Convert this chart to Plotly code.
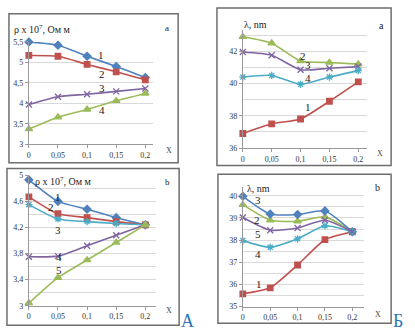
import plotly.graph_objects as go

W, H = 415, 336

x_vals = [0, 0.05, 0.1, 0.15, 0.2]
x_ticktext = ["0", "0,05", "0,1", "0,15", "0,2"]

# Panel A-a : resistivity
rho_a = {
    "1": [5.50, 5.42, 5.15, 4.90, 4.63],
    "2": [5.17, 5.15, 4.95, 4.77, 4.57],
    "3": [3.97, 4.16, 4.22, 4.29, 4.36],
    "4": [3.37, 3.66, 3.85, 4.06, 4.24],
}
# Panel A-b : resistivity
rho_b = {
    "1": [4.93, 4.60, 4.48, 4.35, 4.24],
    "2": [4.67, 4.41, 4.35, 4.29, 4.24],
    "3": [4.55, 4.33, 4.29, 4.26, 4.24],
    "4": [3.75, 3.76, 3.92, 4.08, 4.24],
    "5": [3.04, 3.43, 3.70, 3.97, 4.24],
}
# Panel Б-a : mean free path
lam_a = {
    "1": [36.9, 37.5, 37.8, 38.9, 40.1],
    "2": [42.9, 42.5, 41.4, 41.3, 41.2],
    "3": [41.95, 41.75, 40.85, 40.95, 41.05],
    "4": [40.4, 40.5, 39.95, 40.4, 40.8],
}
# Panel Б-b : mean free path
lam_b = {
    "1": [35.58, 35.85, 36.88, 38.02, 38.38],
    "2": [39.60, 38.90, 38.85, 39.05, 38.38],
    "3": [39.98, 39.18, 39.16, 39.32, 38.38],
    "4": [37.98, 37.68, 38.06, 38.65, 38.38],
    "5": [39.02, 38.45, 38.55, 38.90, 38.38],
}

y1_ticks = [3, 3.5, 4, 4.5, 5, 5.5]
y1_text = ["3", "3,5", "4", "4,5", "5", "5,5"]
y2_ticks = [3, 3.4, 3.8, 4.2, 4.6, 5]
y2_text = ["3", "3,4", "3,8", "4,2", "4,6", "5"]
y3_ticks = [36, 38, 40, 42]
y3_text = ["36", "38", "40", "42"]
y4_ticks = [35, 36, 37, 38, 39, 40]
y4_text = ["35", "36", "37", "38", "39", "40"]

BLUE = "#4F81BD"
RED = "#C0504D"
GREEN = "#9BBB59"
PURPLE = "#8064A2"
CYAN = "#4BACC6"

styles = {
    "blue": (BLUE, "diamond", 6),
    "red": (RED, "square", 5.5),
    "green": (GREEN, "triangle-up", 6.5),
    "purple": (PURPLE, "x-thin-open", 6),
    "cyan": (CYAN, "asterisk-open", 6),
}

series_colors = {
    1: {"1": "blue", "2": "red", "3": "purple", "4": "green"},
    2: {"1": "blue", "2": "red", "3": "cyan", "4": "purple", "5": "green"},
    3: {"1": "red", "2": "green", "3": "purple", "4": "cyan"},
    4: {"1": "red", "2": "green", "3": "blue", "4": "cyan", "5": "purple"},
}

def px(xp):
    return xp / W

def py(yp):
    return 1 - yp / H

fig = go.Figure()

panels = {
    1: dict(data=rho_a, x0=27, x02=144, xend=152, ytop=39, ybot=144, yr=[3, 5.5],
            tv=y1_ticks, tt=y1_text, minor=None),
    2: dict(data=rho_b, x0=27, x02=144, xend=155, ytop=176, ybot=310, yr=[3, 5],
            tv=y2_ticks, tt=y2_text, minor=0.2),
    3: dict(data=lam_a, x0=242, x02=358, xend=367, ytop=27, ybot=148, yr=[36, 43.3],
            tv=y3_ticks, tt=y3_text, minor=1),
    4: dict(data=lam_b, x0=242, x02=352, xend=364, ytop=188, ybot=311, yr=[35, 40.4],
            tv=y4_ticks, tt=y4_text, minor=0.5),
}

tickfont = dict(family="Liberation Serif", size=8, color="#333333")

for i, p in panels.items():
    xa = "x" if i == 1 else f"x{i}"
    ya = "y" if i == 1 else f"y{i}"
    for name, vals in p["data"].items():
        col, sym, sz = styles[series_colors[i][name]]
        fig.add_trace(go.Scatter(
            x=x_vals, y=vals, xaxis=xa, yaxis=ya, mode="lines+markers",
            line=dict(color=col, width=1.6, shape="spline", smoothing=0.6),
            marker=dict(symbol=sym, size=sz, color=col,
                        line=dict(color=col, width=1.3)),
            cliponaxis=False, showlegend=False))
    xmax = 0.2 * (p["xend"] - p["x0"]) / (p["x02"] - p["x0"])
    xkey = "xaxis" if i == 1 else f"xaxis{i}"
    ykey = "yaxis" if i == 1 else f"yaxis{i}"
    fig.layout[xkey] = dict(
        domain=[px(p["x0"]), px(p["xend"])], range=[0, xmax], anchor=ya,
        tickvals=x_vals, ticktext=x_ticktext, showgrid=False, zeroline=False,
        showline=True, linecolor="#999999", linewidth=1, ticks="outside",
        ticklen=3, tickcolor="#999999", tickfont=tickfont)
    yd = dict(
        domain=[py(p["ybot"]), py(p["ytop"])], range=p["yr"], anchor=xa,
        tickvals=p["tv"], ticktext=p["tt"], showgrid=True, gridcolor="#d9d9d9",
        gridwidth=1, zeroline=False, showline=True, linecolor="#999999",
        linewidth=1, ticks="outside", ticklen=3, tickcolor="#999999",
        tickfont=tickfont)
    if p["minor"]:
        yd["minor"] = dict(dtick=p["minor"], tick0=p["yr"][0], showgrid=True,
                           gridcolor="#d9d9d9", gridwidth=1, ticks="")
    fig.layout[ykey] = yd

frames = [(7, 10, 177, 163), (5, 169, 178, 330), (216, 4, 391, 166), (217, 175, 391, 328)]
shapes = []
for (l, t, r, b) in frames:
    shapes.append(dict(type="rect", xref="paper", yref="paper",
                       x0=px(l), x1=px(r), y0=py(b), y1=py(t),
                       line=dict(color="#6e6e6e", width=1.5)))

serif = "Liberation Serif"
ann = []
def A(x, y, text, size=11, color="#222222", xanchor="center"):
    ann.append(dict(x=px(x), y=py(y), xref="paper", yref="paper", text=text,
                    showarrow=False, xanchor=xanchor, yanchor="middle",
                    font=dict(family=serif, size=size, color=color)))

rho_title = "ρ x 10<sup>7</sup>, Ом м"
# titles
A(10, 26, rho_title, 10, xanchor="left")
A(31, 182, rho_title, 10, xanchor="left")
A(241, 21, "λ, nm", 10, xanchor="left")
A(244, 190, "λ, nm", 10, xanchor="left")
# panel letters
A(166, 25, "a", 9)
A(166, 183, "b", 9)
A(381, 22, "a", 10)
A(377, 189, "b", 10)
# X labels
A(168, 151, "X", 8, color="#444444")
A(168, 315, "X", 8, color="#444444")
A(380, 154, "X", 8, color="#444444")
A(378, 319, "X", 8, color="#444444")
# curve numbers
for (x, y, t) in [(99, 52, "1"), (100, 72, "2"), (100, 86, "3"), (100, 109, "4"),
                  (56, 198, "1"), (49, 209, "2"), (56, 232, "3"), (57, 260, "4"), (57, 273, "5"),
                  (302, 53, "2"), (307, 63, "3"), (307, 76, "4"), (307, 106, "1"),
                  (257, 201, "3"), (256, 222, "2"), (257, 236, "5"), (257, 257, "4"), (258, 288, "1")]:
    A(x, y, t, 11)
# big letters
A(186, 326, "A", 18, color="#2E75B6")
A(398, 326, "Б", 18, color="#2E75B6")

fig.update_layout(width=W, height=H, margin=dict(l=0, r=0, t=0, b=0),
                  paper_bgcolor="white", plot_bgcolor="white",
                  shapes=shapes, annotations=ann, separators=", ")

fig.write_html("out.html")
